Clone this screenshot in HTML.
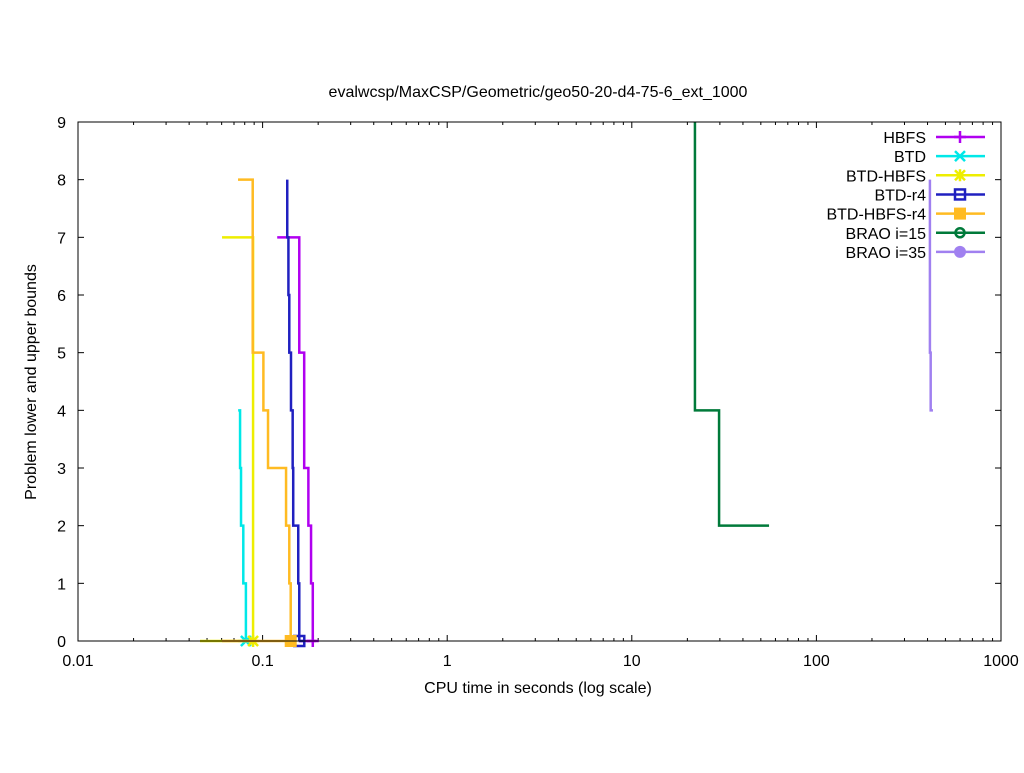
<!DOCTYPE html>
<html><head><meta charset="utf-8"><style>
body{margin:0;background:#fff;width:1024px;height:768px;overflow:hidden}
svg{font-family:"Liberation Sans",sans-serif;font-size:16px}
</style></head><body>
<svg id="chart" width="1024" height="768" xmlns="http://www.w3.org/2000/svg">
<text x="538" y="97" text-anchor="middle">evalwcsp/MaxCSP/Geometric/geo50-20-d4-75-6_ext_1000</text>
<text x="538" y="693" text-anchor="middle">CPU time in seconds (log scale)</text>
<text transform="translate(36,382) rotate(-90)" text-anchor="middle">Problem lower and upper bounds</text>
<g id="axes"></g><g id="series"></g><g id="legend"></g>
<rect x="78" y="122" width="923" height="519" fill="none" stroke="#000" stroke-width="1"/>
</svg>
<script>
const xTicks=[0.01,0.1,1,10,100,1000];
const xTickLabels=["0.01","0.1","1","10","100","1000"];
const yTicks=[0,1,2,3,4,5,6,7,8,9];
const seriesNames=["HBFS","BTD","BTD-HBFS","BTD-r4","BTD-HBFS-r4","BRAO i=15","BRAO i=35"];
const seriesColors=["#b000f0","#00e8e8","#eeee00","#2020c0","#ffbb22","#007a3a","#a080f0"];
const hbfsX=[0.120,0.158,0.168,0.177,0.183,0.187];
const hbfsY=[7,5,3,2,1,0];
const btdX=[0.0737,0.0755,0.0764,0.0786,0.0812];
const btdY=[4,3,2,1,0];
const btdHbfsX=[0.0603,0.0888];
const btdHbfsY=[7,0];
const btdR4X=[0.136,0.136,0.138,0.1395,0.1425,0.1455,0.1465,0.156,0.158];
const btdR4Y=[8,7,6,5,4,3,2,1,0];
const btdHbfsR4X=[0.0736,0.0884,0.101,0.107,0.134,0.1395,0.142];
const btdHbfsR4Y=[8,5,4,3,2,1,0];
const brao15X=[21.98,29.7,55.4];
const brao15Y=[9,4,2];
const brao35X=[412,416,428];
const brao35Y=[8,5,4];
const lowerStart=[0.157,0.0737,0.0458,0.157,0.0603,null,null];
const lowerEnd=[0.194,0.0812,0.0888,0.169,0.142,null,null];
const markerX=[0.187,0.0812,0.0888,0.158,0.142,null,null];
const verticalFirst=[false,false,false,false,false,true,true];
const L=78,R=1001,T=122,B=641;
const sx=v=>L+(Math.log10(v)+2)/5*(R-L);
const sy=v=>B-v/9*(B-T);
const NS="http://www.w3.org/2000/svg";
function mk(tag,attrs,parent){const e=document.createElementNS(NS,tag);for(const k in attrs)e.setAttribute(k,attrs[k]);parent.appendChild(e);return e;}
const axes=document.getElementById('axes');
xTicks.forEach((t,i)=>{const x=sx(t);
 const l=mk('line',{x1:x,x2:x,y1:B,y2:B-6,stroke:'#000'},axes);
 
 
 mk('line',{x1:x,x2:x,y1:T,y2:T+6,stroke:'#000'},axes);
 const tx=mk('text',{x:x,y:B+25,'text-anchor':'middle'},axes);tx.textContent=xTickLabels[i];
 
 
 if(i<xTicks.length-1)for(let m=2;m<10;m++){const mx=sx(t*m);
  mk('line',{x1:mx,x2:mx,y1:B,y2:B-3,stroke:'#000'},axes);
  mk('line',{x1:mx,x2:mx,y1:T,y2:T+3,stroke:'#000'},axes);}
});
yTicks.forEach(t=>{const y=sy(t);
 const l=mk('line',{x1:L,x2:L+6,y1:y,y2:y,stroke:'#000'},axes);
 
 
 mk('line',{x1:R,x2:R-6,y1:y,y2:y,stroke:'#000'},axes);
 const tx=mk('text',{x:L-12,y:y+6,'text-anchor':'end'},axes);tx.textContent=t;
 
 
});
const sg=document.getElementById('series');
const allX=[hbfsX,btdX,btdHbfsX,btdR4X,btdHbfsR4X,brao15X,brao35X];
const allY=[hbfsY,btdY,btdHbfsY,btdR4Y,btdHbfsR4Y,brao15Y,brao35Y];
function marker(i,x,y,g){const c=seriesColors[i];
 if(i===0){mk('path',{d:`M${x-6},${y}h12M${x},${y-6}v12`,stroke:c,'stroke-width':2.5},g);}
 else if(i===1){mk('path',{d:`M${x-5},${y-5}l10,10M${x-5},${y+5}l10,-10`,stroke:c,'stroke-width':2.5},g);}
 else if(i===2){mk('path',{d:`M${x-5},${y-5}l10,10M${x-5},${y+5}l10,-10M${x-6},${y}h12M${x},${y-6}v12`,stroke:c,'stroke-width':2.5},g);}
 else if(i===3){mk('rect',{x:x-5,y:y-5,width:10,height:10,fill:'none',stroke:c,'stroke-width':2.5},g);}
 else if(i===4){mk('rect',{x:x-6,y:y-6,width:12,height:12,fill:c},g);}
 else if(i===5){mk('circle',{cx:x,cy:y,r:4.5,fill:'none',stroke:c,'stroke-width':2.5},g);}
 else {mk('circle',{cx:x,cy:y,r:6,fill:c},g);}
}
allX.forEach((xs,i)=>{const ys=allY[i];const c=seriesColors[i];
 let d=`M${sx(xs[0])},${sy(ys[0])}`;
 for(let k=1;k<xs.length;k++){
  if(verticalFirst[i])d+=`V${sy(ys[k])}H${sx(xs[k])}`;
  else d+=`H${sx(xs[k])}V${sy(ys[k])}`;
 }
 const p=mk('path',{d:d,fill:'none',stroke:c,'stroke-width':2.5},sg);
 
 
 if(lowerStart[i]!==null){
  const lp=mk('line',{x1:sx(lowerStart[i]),x2:sx(lowerEnd[i]),y1:sy(0),y2:sy(0),stroke:c,'stroke-width':2.5},sg);
  
  
  marker(i,sx(markerX[i]),sy(0),sg);
 }
});
const lg=document.getElementById('legend');
seriesNames.forEach((n,i)=>{const y=137+i*19.15;
 const g=mk('g',{},lg);
 
 
 const t=mk('text',{x:926,y:y+6,'text-anchor':'end'},g);t.textContent=n;
 mk('line',{x1:936,x2:985,y1:y,y2:y,stroke:seriesColors[i],'stroke-width':2.5},g);
 marker(i,960,y,g);
});
</script>
</body></html>
